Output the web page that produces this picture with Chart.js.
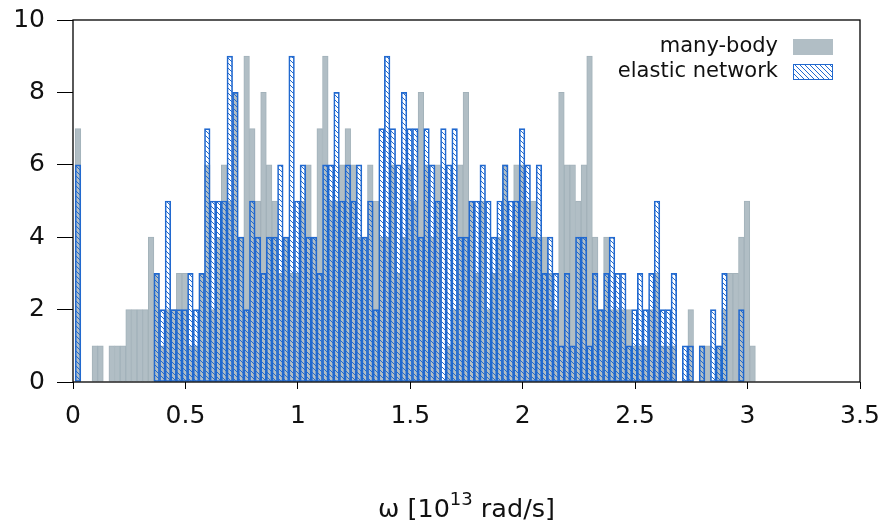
<!DOCTYPE html>
<html>
<head>
<meta charset="utf-8">
<script src="https://cdn.jsdelivr.net/npm/chart.js@4.4.1/dist/chart.umd.min.js"></script>
<style>
html,body{margin:0;padding:0;background:#ffffff;}
#wrap{width:886px;height:526px;position:relative;}
</style>
</head>
<body>
<div id="wrap"><canvas id="c" width="886" height="526"></canvas></div>
<script>
// ---- data ----
const seriesNames = ['many-body', 'elastic network'];
const binStart = 0.0097;   // left edge of the first histogram bin
const binWidth = 0.025;    // histogram bin width
const manyBody = [
  7,0,0,1,1,0,1,1,1,2,
  2,2,2,4,3,1,2,2,3,3,
  1,1,3,6,2,4,6,5,8,4,
  9,7,5,8,6,5,3,4,3,3,
  5,6,4,7,9,5,5,6,7,6,
  4,4,6,5,4,4,6,3,4,6,
  5,8,6,4,6,0,1,2,6,8,
  5,3,5,2,3,4,6,3,6,6,
  5,5,4,4,3,2,8,6,6,5,
  6,9,4,2,4,2,2,2,2,1,
  1,1,2,3,1,1,1,0,0,2,
  0,1,1,0,1,2,3,3,4,5,
  1
];
const elasticNetwork = [
  6,0,0,0,0,0,0,0,0,0,
  0,0,0,0,3,2,5,2,2,2,
  3,2,3,7,5,5,5,9,8,4,
  2,5,4,3,4,4,6,4,9,5,
  6,4,4,3,6,6,8,5,6,5,
  6,4,5,2,7,9,7,6,8,7,
  7,4,7,6,5,7,6,7,4,4,
  5,5,6,5,4,5,6,5,5,7,
  6,4,6,3,4,3,1,3,1,4,
  4,1,3,2,3,4,3,3,1,2,
  3,2,3,5,2,2,3,0,1,1,
  0,1,0,2,1,3,0,0,2,0,
  0
];
const xTicks = [0, 0.5, 1, 1.5, 2, 2.5, 3, 3.5];
const yTicks = [0, 2, 4, 6, 8, 10];
const xTitleParts = ['ω [10', '13', ' rad/s]'];

// ---- styles ----
const FONT = 'DejaVu Sans';
const grayFill = '#b1bec5';
const grayBorder = '#a3b2ba';
const blue = '#2169cf';

function makeHatch(color) {
  const s = 5;
  const c = document.createElement('canvas');
  c.width = s; c.height = s;
  const g = c.getContext('2d');
  g.strokeStyle = color;
  g.lineWidth = 1;
  g.beginPath();
  g.moveTo(-1, -1); g.lineTo(s + 1, s + 1);
  g.moveTo(-1, s - 1); g.lineTo(1, s + 1);
  g.moveTo(s - 1, -1); g.lineTo(s + 1, 1);
  g.stroke();
  return g.createPattern(c, 'repeat');
}
const hatch = makeHatch(blue);

function toPoints(values) {
  return values.map((v, k) => ({ x: binStart + (k + 0.5) * binWidth, y: v === 0 ? null : v }));
}

function noPad(scale) {
  scale.paddingTop = 0; scale.paddingBottom = 0;
  scale.paddingLeft = 0; scale.paddingRight = 0;
}

const framePlugin = {
  id: 'frame',
  afterDatasetsDraw(chart) {
    const { ctx, chartArea: a } = chart;
    ctx.save();
    ctx.strokeStyle = '#000';
    ctx.lineWidth = 1.3;
    ctx.strokeRect(a.left, a.top, a.right - a.left, a.bottom - a.top);
    ctx.restore();
  }
};

const titlePlugin = {
  id: 'xtitle',
  afterDraw(chart) {
    const { ctx, chartArea: a } = chart;
    ctx.save();
    ctx.fillStyle = '#111';
    ctx.textBaseline = 'alphabetic';
    ctx.textAlign = 'left';
    const big = '25.5px "' + FONT + '"', small = '18px "' + FONT + '"';
    ctx.font = big; const w0 = ctx.measureText(xTitleParts[0]).width;
    ctx.font = small; const w1 = ctx.measureText(xTitleParts[1]).width;
    ctx.font = big; const w2 = ctx.measureText(xTitleParts[2]).width;
    const total = w0 + w1 + w2;
    let x = (a.left + a.right) / 2 - total / 2;
    const base = 517;
    ctx.font = big; ctx.fillText(xTitleParts[0], x, base); x += w0;
    ctx.font = small; ctx.fillText(xTitleParts[1], x, base - 12); x += w1;
    ctx.font = big; ctx.fillText(xTitleParts[2], x, base);
    ctx.restore();
  }
};

const keyPlugin = {
  id: 'key',
  afterDraw(chart) {
    const { ctx, chartArea: a } = chart;
    const ds = chart.data.datasets;
    ctx.save();
    ctx.font = '21px "' + FONT + '"';
    ctx.textAlign = 'right';
    ctx.textBaseline = 'middle';
    const textRight = a.right - 82;
    const boxL = a.right - 67, boxW = 40, boxH = 16;
    const rows = [a.top + 27, a.top + 52];
    ds.forEach((d, i) => {
      const y = rows[i];
      ctx.fillStyle = '#111';
      ctx.fillText(d.label, textRight, y);
      ctx.fillStyle = d.backgroundColor;
      ctx.fillRect(boxL, y - boxH / 2, boxW, boxH);
      if (i === 1) {
        ctx.strokeStyle = d.borderColor;
        ctx.lineWidth = 1;
        ctx.strokeRect(boxL + 0.5, y - boxH / 2 + 0.5, boxW - 1, boxH - 1);
      }
    });
    ctx.restore();
  }
};

new Chart(document.getElementById('c'), {
  type: 'bar',
  data: {
    datasets: [
      {
        label: seriesNames[0],
        data: toPoints(manyBody),
        backgroundColor: grayFill,
        borderColor: grayBorder,
        borderWidth: 1,
        borderSkipped: 'bottom',
        grouped: false,
        order: 2,
        barPercentage: 1,
        categoryPercentage: 1
      },
      {
        label: seriesNames[1],
        data: toPoints(elasticNetwork),
        backgroundColor: hatch,
        borderColor: blue,
        borderWidth: 1,
        borderSkipped: false,
        grouped: false,
        order: 1,
        barPercentage: 1,
        categoryPercentage: 1
      }
    ]
  },
  options: {
    responsive: false,
    animation: false,
    devicePixelRatio: 1,
    layout: { padding: { top: 20, right: 26, left: 0, bottom: 0 } },
    plugins: { legend: { display: false }, tooltip: { enabled: false } },
    scales: {
      x: {
        type: 'linear',
        min: 0, max: 3.5,
        offset: false,
        afterBuildTicks(scale) { scale.ticks = xTicks.map(v => ({ value: v })); },
        afterFit(scale) { scale.height = 144; noPad(scale); },
        ticks: {
          autoSkip: false, maxRotation: 0,
          color: '#111',
          font: { family: FONT, size: 25 },
          padding: 12,
          callback: (v) => String(v)
        },
        grid: { offset: false, drawOnChartArea: false, drawTicks: true, tickLength: 7, color: '#000', lineWidth: 1 },
        border: { display: false },
        title: { display: false }
      },
      y: {
        min: 0, max: 10,
        afterBuildTicks(scale) { scale.ticks = yTicks.map(v => ({ value: v })); },
        afterFit(scale) { scale.width = 73; noPad(scale); },
        ticks: {
          color: '#111',
          font: { family: FONT, size: 25 },
          padding: 12,
          callback: (v) => String(v)
        },
        grid: { drawOnChartArea: false, drawTicks: true, tickLength: 16, color: '#000', lineWidth: 1 },
        border: { display: false }
      }
    }
  },
  plugins: [framePlugin, titlePlugin, keyPlugin]
});
</script>
</body>
</html>
